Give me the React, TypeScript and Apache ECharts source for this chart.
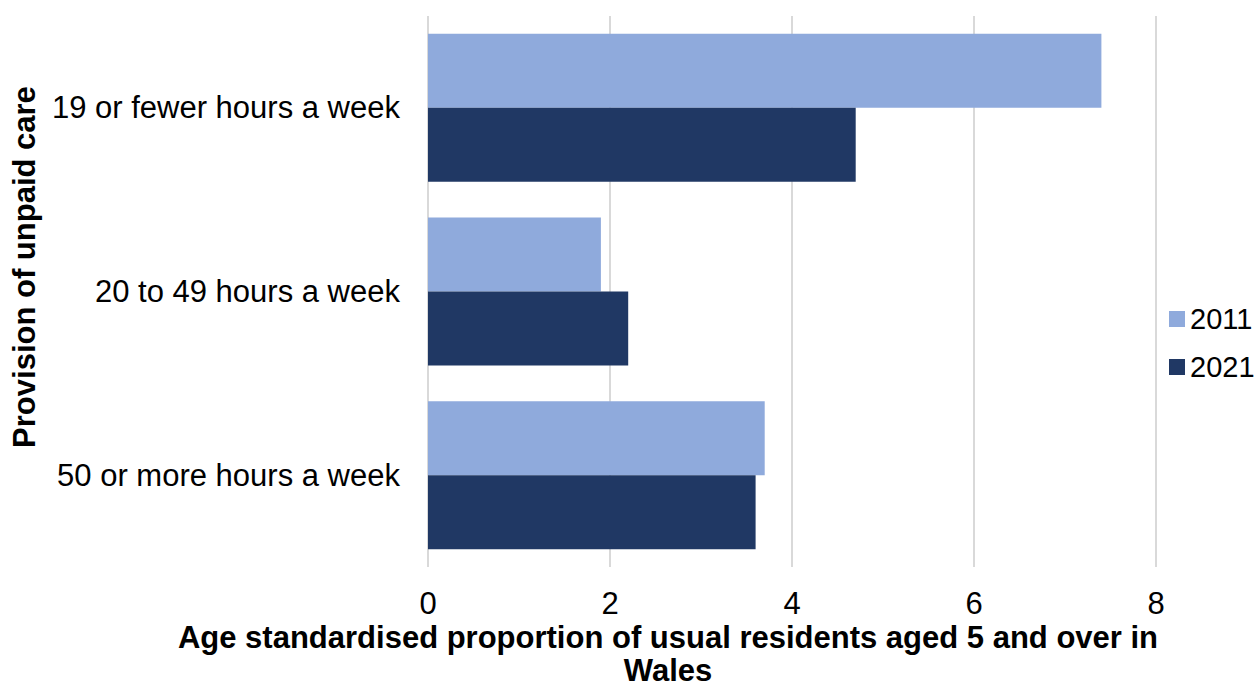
import React, { useEffect, useRef } from "react";
import * as echarts from "echarts";

// Unpaid care provision, Wales, 2011 vs 2021
const categories = [
  "19 or fewer hours a week",
  "20 to 49 hours a week",
  "50 or more hours a week",
];
const values2011 = [7.4, 1.9, 3.7];
const values2021 = [4.7, 2.2, 3.6];
const seriesNames = ["2011", "2021"];
const xTicks = { min: 0, max: 8, interval: 2 };

const FONT = '"Liberation Sans", Arial, Helvetica, sans-serif';
const LIGHT = "#8faadc";
const DARK = "#203864";
const FS = 31;

export default function App() {
  const ref = useRef<HTMLDivElement>(null);

  useEffect(() => {
    if (!ref.current) return;
    const chart = echarts.init(ref.current, null, { renderer: "svg" });
    chart.setOption({
      animation: false,
      backgroundColor: "#ffffff",
      textStyle: { fontFamily: FONT },
      grid: { left: 428, right: 100, top: 16, bottom: 121, containLabel: false },
      legend: {
        orient: "vertical",
        left: 1164,
        top: 299,
        itemWidth: 16,
        itemHeight: 16,
        itemGap: 18,
        icon: "rect",
        data: seriesNames,
        textStyle: { fontFamily: FONT, fontSize: 29, color: "#000", lineHeight: 30 },
      },
      xAxis: {
        type: "value",
        min: xTicks.min,
        max: xTicks.max,
        interval: xTicks.interval,
        axisLine: { show: false },
        axisTick: { show: false },
        axisLabel: { fontFamily: FONT, fontSize: FS, color: "#000", margin: 21 },
        splitLine: { show: true, lineStyle: { color: "#d9d9d9", width: 2 } },
      },
      yAxis: {
        type: "category",
        data: categories,
        inverse: true,
        axisLine: { show: false },
        axisTick: { show: false },
        axisLabel: { fontFamily: FONT, fontSize: FS, color: "#000", margin: 28 },
        splitLine: { show: false },
      },
      series: [
        {
          name: seriesNames[0],
          type: "bar",
          data: values2011,
          barWidth: 74,
          barGap: "0%",
          itemStyle: { color: LIGHT },
        },
        {
          name: seriesNames[1],
          type: "bar",
          data: values2021,
          barWidth: 74,
          barGap: "0%",
          itemStyle: { color: DARK },
        },
      ],
      graphic: [
        {
          type: "text",
          x: 24,
          y: 267,
          rotation: Math.PI / 2,
          style: {
            text: "Provision of unpaid care",
            fontFamily: FONT,
            fontSize: FS,
            fontWeight: "bold",
            fill: "#000",
            align: "center",
            verticalAlign: "middle",
          },
        },
        {
          type: "text",
          x: 668,
          y: 621,
          style: {
            text: "Age standardised proportion of usual residents aged 5 and over in\nWales",
            fontFamily: FONT,
            fontSize: FS,
            fontWeight: "bold",
            lineHeight: 33,
            fill: "#000",
            align: "center",
            verticalAlign: "top",
          },
        },
      ],
    });
    return () => chart.dispose();
  }, []);

  return (
    <div
      ref={ref}
      style={{ position: "absolute", left: 0, top: 0, width: 1256, height: 688 }}
    />
  );
}
